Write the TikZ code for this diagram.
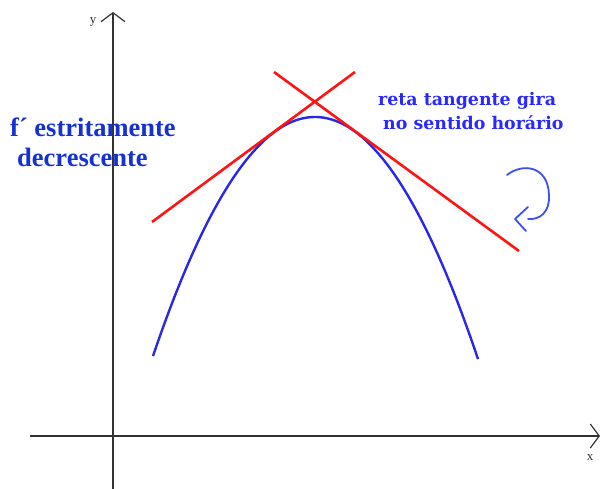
\documentclass[tikz,border=0pt]{standalone}
\usepackage{fontspec}
\setmainfont{Liberation Serif}
\newfontfamily\slabfont{DejaVu Serif}
\usetikzlibrary{arrows.meta}
\definecolor{axisgray}{RGB}{50,50,50}
\definecolor{curveblue}{RGB}{40,40,230}
\definecolor{textblue}{RGB}{20,50,210}
\definecolor{labelblue}{RGB}{40,40,255}
\definecolor{arrowblue}{RGB}{60,80,245}
\definecolor{tanred}{RGB}{255,20,20}
\tikzset{
  axis/.style={draw=axisgray, line width=1.2pt, -{Straight Barb[length=9pt,width=24pt,line width=1.2pt]}},
  tangent/.style={draw=tanred, line width=2.6pt},
  curve/.style={draw=curveblue, line width=2.4pt},
  axlabel/.style={font=\fontsize{13}{14}\selectfont, text=axisgray},
  bigblue/.style={font=\fontsize{26.5}{30}\selectfont\bfseries, text=textblue, inner sep=0pt},
  smallblue/.style={font=\slabfont\fontsize{17.4}{20}\selectfont\bfseries, text=labelblue, inner sep=0pt},
  rotarrow/.style={draw=arrowblue, line width=1.8pt, line cap=round, line join=round}
}
\begin{document}
\begin{tikzpicture}[x=1pt,y=-1pt]
\useasboundingbox (0,0) rectangle (602,489);
% axes
\coordinate (xs) at (30,436);
\coordinate (xe) at (600,436);
\coordinate (ys) at (113,490);
\coordinate (ye) at (113,12);
\draw[axis] (xs) -- (xe);
\draw[axis] (ys) -- (ye);
\node[axlabel] (ylab) at (93,22) {y};
\node[axlabel] (xlab) at (590,458) {x};
% parabola
\draw[curve, domain=153:478, samples=120] plot (\x, {117+0.00911*(\x-315)*(\x-315)});
% tangent lines
\coordinate (l1a) at (152,222);
\coordinate (l1b) at (355,72);
\coordinate (l2a) at (274,72);
\coordinate (l2b) at (519,251);
\draw[tangent] (l1a) -- (l1b);
\draw[tangent] (l2a) -- (l2b);
% texts
\node[bigblue, anchor=base west] (t1) at (10,137) {f´ estritamente};
\node[bigblue, anchor=base west] (t2) at (17,167) {decrescente};
\node[smallblue, anchor=base west] (t3) at (378,105.5) {reta tangente gira};
\node[smallblue, anchor=base west] (t4) at (383,130) {no sentido horário};
% rotation arrow
\draw[rotarrow]
  (507,175) .. controls (522,163) and (548,165) .. (549,195)
  .. controls (550,212) and (540,220) .. (528,219);
\draw[rotarrow] (528,207) -- (515,219) -- (526,231);
\end{tikzpicture}
\end{document}
